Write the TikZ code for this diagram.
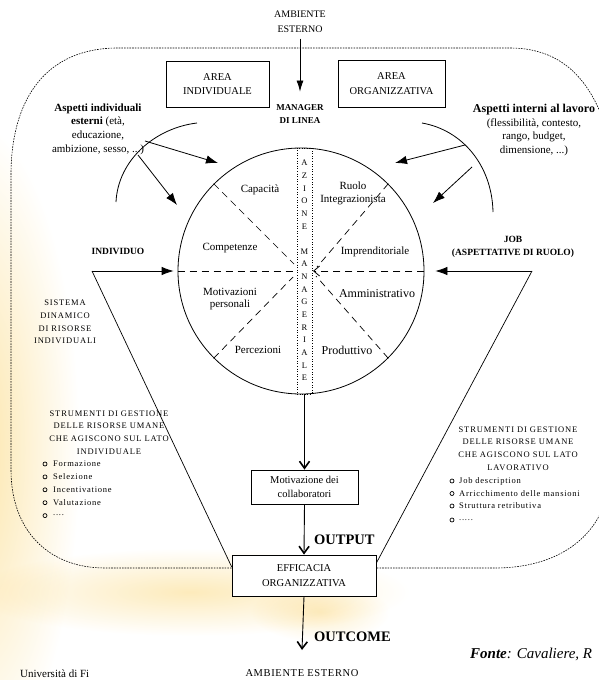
\documentclass[tikz,border=0pt]{standalone}
\usepackage{fontspec}
\setmainfont{Liberation Serif}
\usetikzlibrary{arrows.meta,calc}
\definecolor{glow}{RGB}{252,228,165}
\begin{document}
\begin{tikzpicture}[x=1pt,y=-1pt,
  txt/.style={align=center,inner sep=0pt,font=\fontsize{11}{13.6}\selectfont},
  ambt/.style={align=center,inner sep=0pt,font=\fontsize{10}{15}\selectfont},
  bld/.style={align=center,inner sep=0pt,font=\fontsize{9}{12.5}\selectfont\bfseries},
  sect/.style={align=center,inner sep=0pt,font=\fontsize{11}{12.8}\selectfont},
  sectbig/.style={align=center,inner sep=0pt,font=\fontsize{12}{14}\selectfont},
  boxed/.style={draw,line width=0.8pt,align=center,inner sep=0pt,font=\fontsize{10.5}{14.5}\selectfont},
  small/.style={align=center,inner sep=0pt,font=\fontsize{8.5}{12.7}\selectfont\addfontfeature{LetterSpace=10}},
  item/.style={anchor=west,inner sep=0pt,font=\fontsize{8.5}{10}\selectfont\addfontfeature{LetterSpace=9}},
  letter/.style={inner sep=0pt,font=\fontsize{8.5}{9}\selectfont},
  bullet/.style={circle,draw,line width=0.7pt,inner sep=0pt,minimum size=4pt},
  outerline/.style={line width=0.6pt,dash pattern=on 1.6pt off 1.1pt},
  sector/.style={line width=0.7pt,dash pattern=on 7pt off 5pt},
  fat/.style={line width=0.8pt,-{Latex[length=12pt,width=8.5pt]}},
  barb/.style={line width=0.9pt,-{Straight Barb[length=7pt,width=10pt,line width=1.6pt]}},
  big/.style={anchor=west,inner sep=0pt,font=\fontsize{14.5}{16}\selectfont\bfseries},
]
\useasboundingbox (0,0) rectangle (599,680);
\fill[white] (0,0) rectangle (599,680);
\begin{scope}[blend mode=multiply]
  \shade[inner color=glow,outer color=white] (-30,450) ellipse [x radius=110,y radius=330];
  \shade[inner color=glow!75,outer color=white] (190,592) ellipse [x radius=220,y radius=44];
  \shade[inner color=glow!60,outer color=white] (320,612) ellipse [x radius=70,y radius=30];
\end{scope}

% boxes at the bottom (needed for the dashed line ends)
\node[boxed,minimum width=107pt,minimum height=34pt,fill=white] (mot) at (304.5,487) {Motivazione dei\\collaboratori};
\node[boxed,minimum width=144pt,minimum height=41pt,fill=white] (eff) at (304,575.5) {EFFICACIA\\ORGANIZZATIVA};
\coordinate (dl) at ($(eff.north west)!0.32!(eff.south west)$);
\coordinate (dr) at ($(eff.north east)!0.32!(eff.south east)$);

% outer dashed boundary
\draw[outerline] (dl) -- (105,568) .. controls (48,568) and (11,530) .. (11,470)
  -- (11,175) .. controls (11,100) and (45,48) .. (118,48) -- (510,48)
  .. controls (555,48) and (588,72) .. (606,128) -- (612,180) -- (612,440) -- (608,490)
  .. controls (600,535) and (560,568) .. (495,568) -- (dr);

% top
\node[ambt] (amb1) at (300,21.5) {AMBIENTE\\ESTERNO};
\node[bld] (mgr) at (300,114) {MANAGER\\DI LINEA};
\draw[line width=0.8pt,-{Latex[length=11pt,width=7pt]},shorten <=6pt,shorten >=13pt] (amb1.south) -- (mgr.north);
\node[boxed,minimum width=103pt,minimum height=46pt] (ai) at (217.5,84) {AREA\\INDIVIDUALE};
\node[boxed,minimum width=107pt,minimum height=47pt] (ao) at (391.5,83.5) {AREA\\ORGANIZZATIVA};

% circle and strip
\node[circle,draw,line width=0.8pt,minimum size=246pt,inner sep=0pt] (C) at (301,271) {};
\node[draw,line width=0.9pt,dash pattern=on 1pt off 1.6pt,minimum width=15pt,minimum height=246pt,inner sep=0pt] (S) at (304.5,271) {};
\foreach \l [count=\i] in {A,Z,I,O,N,E}
  \node[letter] (za\i) at (304.5,{163+(\i-1)*12.65}) {\l};
\foreach \l [count=\i] in {M,A,N,A,G,E,R,I,A,L,E}
  \node[letter] (zb\i) at (304.5,{251.5+(\i-1)*12.65}) {\l};

% sector lines
\coordinate (hl) at (294,271);
\coordinate (hr) at (313,271);
\coordinate (ul) at (294,264);
\coordinate (ll) at (293,277);
\coordinate (ur) at (317,267);
\coordinate (lr) at (316,276);
\draw[sector] (C.west) -- (hl);
\draw[sector,-{Straight Barb[length=6pt,width=10pt,line width=0.8pt]}] (C.east) -- (hr);
\draw[sector] (C.135) -- (ul);
\draw[sector] (C.225) -- (ll);
\draw[sector] (C.45) -- (ur);
\draw[sector] (C.-45) -- (lr);

% sector labels
\node[sect] (cap) at (260,190) {Capacità};
\node[sect] (comp) at (230,248) {Competenze};
\node[sect] (motp) at (230,299) {Motivazioni\\personali};
\node[sect] (perc) at (258,350) {Percezioni};
\node[sect] (ruolo) at (353,193) {Ruolo\\Integrazionista};
\node[sect] (impr) at (375,252) {Imprenditoriale};
\node[sectbig] (amm) at (377,294) {Amministrativo};
\node[sectbig] (prod) at (347,350) {Produttivo};

% external aspects
\node[txt] (aspI) at (98,129) {\textbf{Aspetti individuali}\\\textbf{esterni} (età,\\educazione,\\ambizione, sesso, ...)};
\node[txt] (aspO) at (534,130) {{\fontsize{12}{13.6}\selectfont\textbf{Aspetti interni al lavoro}}\\(flessibilità, contesto,\\rango, budget,\\dimensione, ...)};
\draw[line width=0.8pt] (197,123) .. controls (155,128) and (118,160) .. (116,202);
\draw[line width=0.8pt] (422,123) .. controls (462,130) and (492,165) .. (493,212);
\coordinate (a1s) at (145,141); \coordinate (a1e) at (218,163);
\coordinate (a2s) at (138,155); \coordinate (a2e) at (177,205);
\coordinate (b1s) at (465,145); \coordinate (b1e) at (395,163);
\coordinate (b2s) at (472,167); \coordinate (b2e) at (433,203);
\draw[fat] (a1s) -- (a1e);
\draw[fat] (a2s) -- (a2e);
\draw[fat] (b1s) -- (b1e);
\draw[fat] (b2s) -- (b2e);

% individuo / job
\node[bld,font=\fontsize{9.5}{12.5}\selectfont\bfseries] (indiv) at (118,251) {INDIVIDUO};
\node[bld,font=\fontsize{9.5}{13}\selectfont\bfseries] (job) at (513,246.5) {JOB\\(ASPETTATIVE DI RUOLO)};
\coordinate (iv) at (92,271);
\coordinate (jb) at (532,271);
\draw[fat,shorten >=4pt] (iv) -- (C.west);
\draw[fat,shorten >=11pt] (jb) -- (C.east);
\coordinate (vl) at ($(eff.north west)!0.29!(eff.south west)$);
\coordinate (vr) at ($(eff.north east)!0.2!(eff.south east)$);
\draw[line width=0.7pt] (iv) -- (vl);
\draw[line width=0.7pt] (jb) -- (vr);

\node[small] (sist) at (65,322) {SISTEMA\\DINAMICO\\DI RISORSE\\INDIVIDUALI};
\node[small] (strL) at (109,432.5) {STRUMENTI DI GESTIONE\\DELLE RISORSE UMANE\\CHE AGISCONO SUL LATO\\INDIVIDUALE};
\node[small] (strR) at (518,448.5) {STRUMENTI DI GESTIONE\\DELLE RISORSE UMANE\\CHE AGISCONO SUL LATO\\LAVORATIVO};

\node[bullet] (bl1) at (45,464) {};   \node[item] (il1) at (53,464) {Formazione};
\node[bullet] (bl2) at (45,476.9) {}; \node[item] (il2) at (53,476.9) {Selezione};
\node[bullet] (bl3) at (45,489.8) {}; \node[item] (il3) at (53,489.8) {Incentivatione};
\node[bullet] (bl4) at (45,502.7) {}; \node[item] (il4) at (53,502.7) {Valutazione};
\node[bullet] (bl5) at (45,515.6) {}; \node[item] (il5) at (53,515.6) {....};

\node[bullet] (br1) at (452,481) {};   \node[item] (ir1) at (459,481) {Job description};
\node[bullet] (br2) at (452,493.5) {}; \node[item] (ir2) at (459,493.5) {Arricchimento delle mansioni};
\node[bullet] (br3) at (452,506) {};   \node[item] (ir3) at (459,506) {Struttura retributiva};
\node[bullet] (br4) at (452,520) {};   \node[item] (ir4) at (459,520) {.....};

% bottom flow
\draw[barb] (S.south) -- (mot.north);
\draw[barb] (mot.south) -- (eff.north);
\coordinate (outend) at (302,650);
\draw[barb] (eff.south) -- (outend);
\node[big] (outp) at (314,540) {OUTPUT};
\node[big] (outc) at (314,637) {OUTCOME};
\node[inner sep=0pt,font=\fontsize{10.5}{12}\selectfont\addfontfeature{LetterSpace=6}] (amb2) at (302,673) {AMBIENTE ESTERNO};
\node[anchor=west,inner sep=0pt,font=\fontsize{15}{17}\selectfont\itshape] (fonte) at (470,654) {\textbf{Fonte}: Cavaliere, R};
\node[anchor=base west,inner sep=0pt,font=\fontsize{11}{13}\selectfont] (univ) at (20,677.5) {Università di Fi};
\end{tikzpicture}
\end{document}
